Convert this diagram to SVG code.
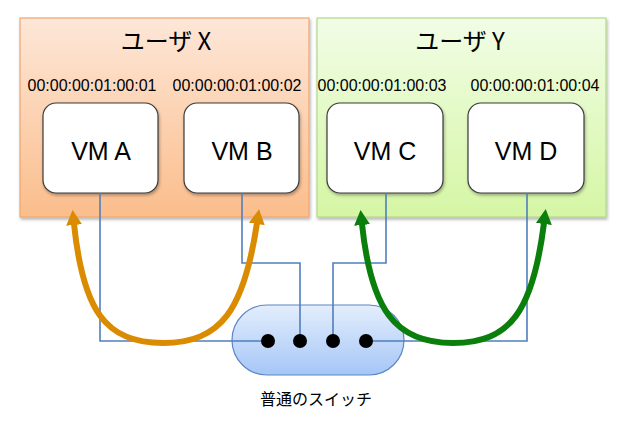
<svg xmlns="http://www.w3.org/2000/svg" width="624" height="423" viewBox="0 0 624 423">
<defs>
<linearGradient id="gx" x1="0" y1="0" x2="0" y2="1"><stop offset="0" stop-color="#fde7d8"/><stop offset="1" stop-color="#fbbd8b"/></linearGradient>
<linearGradient id="gy" x1="0" y1="0" x2="0" y2="1"><stop offset="0" stop-color="#f1fde6"/><stop offset="1" stop-color="#d5f6a4"/></linearGradient>
<linearGradient id="gs" x1="0" y1="0" x2="0" y2="1"><stop offset="0" stop-color="#e3eefc"/><stop offset="1" stop-color="#a6c6f7"/></linearGradient>
<filter id="sh" x="-10%" y="-10%" width="130%" height="130%"><feDropShadow dx="1" dy="2" stdDeviation="1.5" flood-color="#000" flood-opacity="0.3"/></filter>
<marker id="ho" markerUnits="userSpaceOnUse" markerWidth="18" markerHeight="20" refX="1" refY="9" orient="auto-start-reverse" viewBox="0 0 18 18"><path d="M0,1 L15,9 L0,17 z" fill="#db8b00"/></marker>
<marker id="hg" markerUnits="userSpaceOnUse" markerWidth="18" markerHeight="20" refX="1" refY="9" orient="auto-start-reverse" viewBox="0 0 18 18"><path d="M0,1 L15,9 L0,17 z" fill="#0b7f0b"/></marker>
</defs>
<style>
.grp{stroke-width:1.2}
.vm{fill:#fff;stroke:#3a3a3a;stroke-width:1.2}
.t{font-family:"Noto Sans CJK JP","Noto Sans",sans-serif;fill:#000;text-anchor:middle}
.mac{font-family:"Liberation Sans",Arial,sans-serif;font-size:16px;fill:#000;text-anchor:middle}
.vmt{font-family:"Liberation Sans",Arial,sans-serif;font-size:25px;fill:#000;text-anchor:middle}
.wire{fill:none;stroke:#4f7fbd;stroke-width:1.6}
.dot{fill:#000}
</style>
<g id="userX">
<rect x="20" y="18" width="289" height="199" fill="url(#gx)" stroke="#f2a66d" class="grp" filter="url(#sh)"/>
<text class="t" x="166" y="50" font-size="24">ユーザ X</text>
<text class="mac" x="92" y="90.5">00:00:00:01:00:01</text>
<text class="mac" x="237" y="90.5">00:00:00:01:00:02</text>
</g>
<g id="userY">
<rect x="317" y="18" width="289" height="199" fill="url(#gy)" stroke="#b3d98a" class="grp" filter="url(#sh)"/>
<text class="t" x="460" y="50" font-size="24">ユーザ Y</text>
<text class="mac" x="382" y="90.5">00:00:00:01:00:03</text>
<text class="mac" x="535" y="90.5">00:00:00:01:00:04</text>
</g>
<g id="vmA"><rect class="vm" x="43" y="103" width="115" height="90" rx="13" filter="url(#sh)"/><text class="vmt" x="101" y="160">VM A</text></g>
<g id="vmB"><rect class="vm" x="184" y="103" width="115" height="90" rx="13" filter="url(#sh)"/><text class="vmt" x="242" y="160">VM B</text></g>
<g id="vmC"><rect class="vm" x="327" y="103" width="116" height="90" rx="13" filter="url(#sh)"/><text class="vmt" x="385" y="160">VM C</text></g>
<g id="vmD"><rect class="vm" x="468" y="103" width="116" height="90" rx="13" filter="url(#sh)"/><text class="vmt" x="526" y="160">VM D</text></g>
<g id="switch">
<rect x="232" y="305" width="172" height="70" rx="35" fill="url(#gs)" stroke="#5b86c5" stroke-width="1.2"/>
<text class="t" x="316" y="405" font-size="16">普通のスイッチ</text>
</g>
<g id="connectors">
<path class="wire" d="M100,193 V341 H268"/>
<path class="wire" d="M242,193 V263 H300 V341"/>
<path class="wire" d="M386,193 V263 H333 V341"/>
<path class="wire" d="M527,193 V341 H366"/>
<path d="M74,224 C83,310 105,343 163,343 C221,343 244,310 257,223" fill="none" stroke="#db8b00" stroke-width="6" marker-start="url(#ho)" marker-end="url(#ho)"/>
<path d="M362,224 C371,310 395,343 453,343 C511,343 533,310 544,223" fill="none" stroke="#0b7f0b" stroke-width="6" marker-start="url(#hg)" marker-end="url(#hg)"/>
</g>
<g id="ports">
<circle class="dot" cx="268" cy="341" r="7"/>
<circle class="dot" cx="300" cy="341" r="7"/>
<circle class="dot" cx="333" cy="341" r="7"/>
<circle class="dot" cx="366" cy="341" r="7"/>
</g>
</svg>
